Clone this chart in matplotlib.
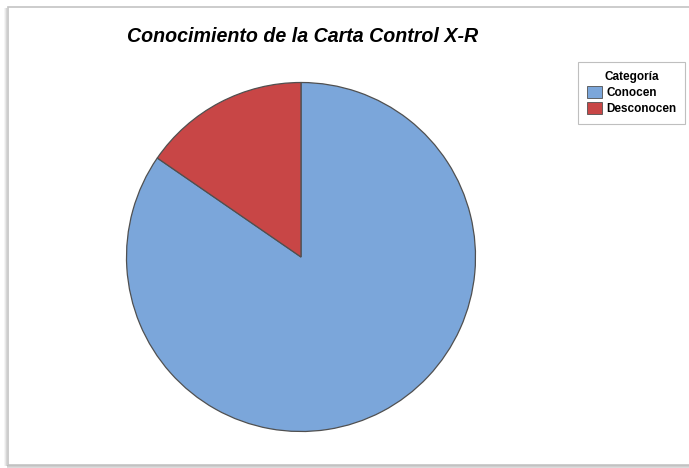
import matplotlib.pyplot as plt
from matplotlib.patches import Rectangle, Patch

categories = ["Conocen", "Desconocen"]
values = [84.6, 15.4]
colors = ["#7BA6DA", "#C84646"]
title = "Conocimiento de la Carta Control X-R"
legend_title = "Categoría"

W, H = 689, 468
fig = plt.figure(figsize=(W / 100, H / 100), dpi=100)
fig.patch.set_facecolor("white")


def px_rect(x0, y0_top, w, h, **kw):
    """Rectangle given in pixel coordinates measured from the top-left."""
    r = Rectangle((x0 / W, 1 - (y0_top + h) / H), w / W, h / H,
                  transform=fig.transFigure, **kw)
    fig.add_artist(r)
    return r


# soft shadow to the left of and below the frame
for i, a in enumerate([0.16, 0.09, 0.04]):
    px_rect(6 - i, 8, 1, 458, color="black", alpha=a, lw=0)
    px_rect(7, 465 + i, W, 1, color="black", alpha=a + 0.1, lw=0)
# outer frame
px_rect(7.5, 6.5, W + 10, 458, fill=False, ec="#C4C4C4", lw=1.2)

ax = fig.add_axes([126.5 / W, 1 - 431.5 / H, 349 / W, 349 / H])
ax.pie(values, colors=colors, startangle=90, counterclock=False,
       wedgeprops=dict(edgecolor="#505050", linewidth=0.9))
ax.set_aspect("equal")
ax.set_xlim(-1, 1)
ax.set_ylim(-1, 1)
ax.axis("off")

fig.text(303 / W, 1 - 37 / H, title, ha="center", va="center",
         fontsize=14.1, fontweight="bold", fontstyle="italic",
         family="Liberation Sans")

handles = [Patch(facecolor=c, edgecolor="#505050", lw=0.6) for c in colors]
leg = fig.legend(handles, categories, title=legend_title,
                 loc="upper left", bbox_to_anchor=(578 / W, 1 - 62 / H),
                 prop=dict(family="Liberation Sans", weight="bold", size=8.5),
                 title_fontproperties=dict(family="Liberation Sans", weight="bold", size=8.5),
                 frameon=True, fancybox=False, edgecolor="#B0B0B0",
                 handlelength=1.3, handleheight=1.2, handletextpad=0.35,
                 borderpad=0.75, labelspacing=0.25, borderaxespad=0)
leg.get_frame().set_linewidth(0.8)

fig.savefig("out.png", dpi=100)
